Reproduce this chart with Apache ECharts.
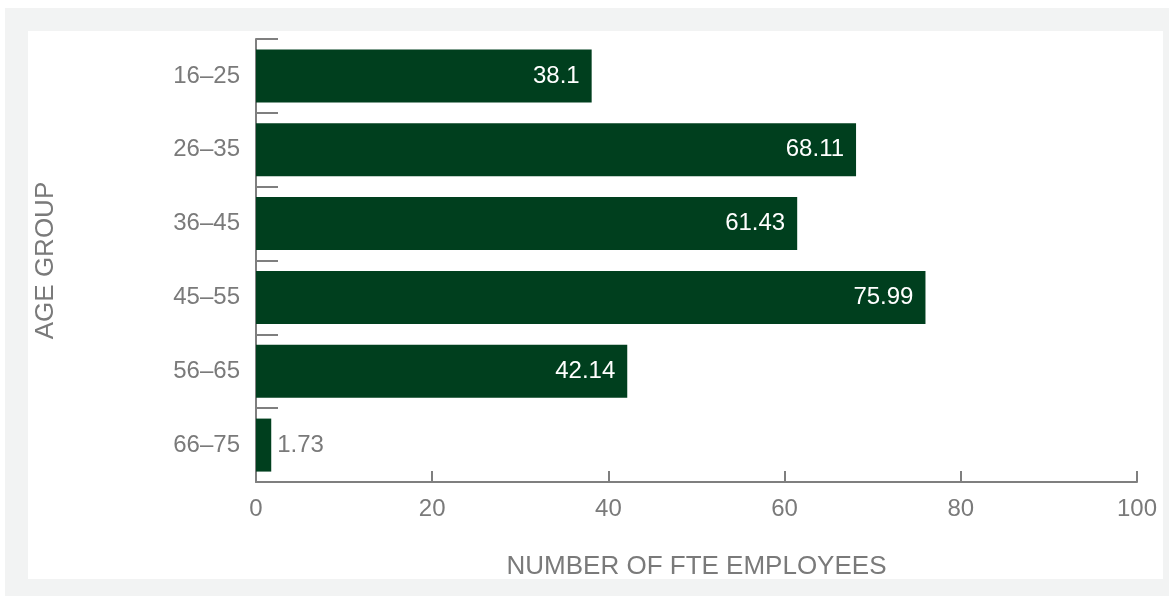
<!DOCTYPE html>
<html>
<head>
<meta charset="utf-8">
<script src="https://cdn.jsdelivr.net/npm/echarts@6/dist/echarts.min.js"></script>
<style>
  html, body { margin: 0; padding: 0; background: #ffffff; }
  #chart { width: 1169px; height: 596px; }
</style>
</head>
<body>
<div id="chart"></div>
<script>
// Age groups and full-time-equivalent headcount per group
const ageGroups = ['16–25', '26–35', '36–45', '45–55', '56–65', '66–75'];
const fteEmployees = [38.1, 68.11, 61.43, 75.99, 42.14, 1.73];
const xTicks = { min: 0, max: 100, interval: 20 };

const textGray = '#7a7a7a';
const axisGray = '#7f7f7f';
const barGreen = '#003f1e';
const fontFamily = 'Arial, "Liberation Sans", sans-serif';

// Values too small to hold their label inside the bar get it outside
const barData = fteEmployees.map(v => ({
  value: v,
  label: v < 10
    ? { position: 'right', color: textGray, distance: 6 }
    : { position: 'insideRight', color: '#ffffff', distance: 12 }
}));

const chart = echarts.init(document.getElementById('chart'), null, { renderer: 'canvas' });

chart.setOption({
  backgroundColor: '#ffffff',
  animation: false,
  textStyle: { fontFamily: fontFamily },
  graphic: [
    {
      type: 'rect', z: -10, silent: true,
      shape: { x: 5, y: 8, width: 1164, height: 588 },
      style: { fill: '#f2f3f3' }
    },
    {
      type: 'rect', z: -9, silent: true,
      shape: { x: 28, y: 31, width: 1135, height: 548 },
      style: { fill: '#ffffff' }
    }
  ],
  grid: { left: 256, right: 32, top: 39, bottom: 114, containLabel: false },
  xAxis: {
    type: 'value',
    min: xTicks.min,
    max: xTicks.max,
    interval: xTicks.interval,
    name: 'NUMBER OF FTE EMPLOYEES',
    nameLocation: 'middle',
    nameGap: 72,
    nameMoveOverlap: false,
    nameTextStyle: { color: textGray, fontSize: 26, fontFamily: fontFamily },
    axisLine: { show: true, lineStyle: { color: axisGray, width: 2 } },
    axisTick: { show: true, inside: true, length: 11, lineStyle: { color: axisGray, width: 2 } },
    axisLabel: { color: textGray, fontSize: 24, margin: 15, fontFamily: fontFamily },
    splitLine: { show: false }
  },
  yAxis: {
    type: 'category',
    data: ageGroups,
    inverse: true,
    name: 'AGE GROUP',
    nameLocation: 'middle',
    nameGap: 197,
    nameRotate: 90,
    nameMoveOverlap: false,
    nameTextStyle: { color: textGray, fontSize: 26, fontFamily: fontFamily },
    axisLine: { show: true, lineStyle: { color: axisGray, width: 2 } },
    axisTick: { show: true, inside: true, length: 22, alignWithLabel: false, lineStyle: { color: axisGray, width: 2 } },
    axisLabel: { color: textGray, fontSize: 24, margin: 16, fontFamily: fontFamily },
    splitLine: { show: false }
  },
  series: [{
    type: 'bar',
    data: barData,
    barWidth: 53,
    itemStyle: { color: barGreen },
    label: {
      show: true,
      fontSize: 24,
      fontFamily: fontFamily,
      formatter: p => String(p.value)
    }
  }]
});
</script>
</body>
</html>
